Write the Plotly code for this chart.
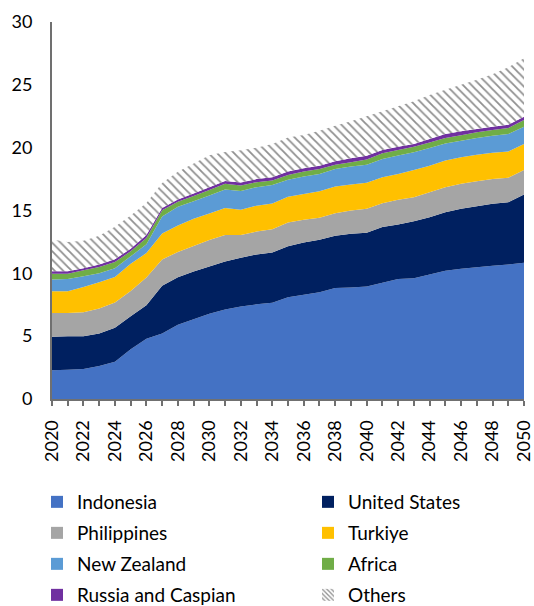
import plotly.graph_objects as go

years = list(range(2020, 2051))

indonesia = [2.28, 2.33, 2.38, 2.62, 2.96, 3.95, 4.80, 5.21, 5.90, 6.35, 6.78,
             7.12, 7.37, 7.53, 7.65, 8.10, 8.30, 8.50, 8.83, 8.88, 8.95,
             9.25, 9.55, 9.60, 9.90, 10.20, 10.37, 10.48, 10.60, 10.70, 10.85]
united_states = [2.67, 2.67, 2.62, 2.59, 2.70, 2.64, 2.66, 3.81, 3.78, 3.80, 3.77,
                 3.83, 3.88, 3.97, 4.00, 4.05, 4.15, 4.17, 4.17, 4.27, 4.27,
                 4.43, 4.34, 4.55, 4.57, 4.67, 4.76, 4.86, 4.93, 4.96, 5.42]
philippines = [1.90, 1.85, 1.90, 1.99, 2.01, 2.01, 2.20, 2.08, 2.02, 2.03, 2.10,
               2.10, 1.80, 1.82, 1.85, 1.90, 1.81, 1.75, 1.79, 1.85, 1.91,
               1.90, 1.96, 1.91, 1.98, 1.98, 1.99, 1.99, 1.98, 1.94, 1.96]
turkiye = [1.72, 1.72, 2.01, 2.09, 2.04, 2.17, 1.95, 2.07, 2.10, 2.16, 2.12,
           2.15, 2.01, 2.06, 2.05, 2.05, 2.06, 2.11, 2.11, 2.06, 2.07,
           2.06, 2.06, 2.17, 2.12, 2.12, 2.11, 2.11, 2.09, 2.10, 2.06]
new_zealand = [0.93, 0.98, 0.85, 0.71, 0.69, 0.58, 0.70, 1.35, 1.50, 1.40, 1.42,
               1.48, 1.50, 1.47, 1.47, 1.34, 1.38, 1.38, 1.40, 1.44, 1.45,
               1.46, 1.46, 1.40, 1.40, 1.37, 1.33, 1.33, 1.35, 1.38, 1.38]
africa = [0.47, 0.42, 0.48, 0.50, 0.50, 0.40, 0.50, 0.50, 0.40, 0.41, 0.45,
          0.44, 0.42, 0.40, 0.36, 0.39, 0.40, 0.39, 0.35, 0.34, 0.40,
          0.45, 0.44, 0.45, 0.45, 0.43, 0.42, 0.45, 0.45, 0.48, 0.53]
russia_caspian = [0.19, 0.19, 0.16, 0.20, 0.23, 0.20, 0.25, 0.17, 0.18, 0.20, 0.21,
                  0.23, 0.24, 0.25, 0.26, 0.27, 0.26, 0.27, 0.26, 0.31, 0.30,
                  0.26, 0.27, 0.21, 0.27, 0.31, 0.32, 0.26, 0.27, 0.27, 0.26]
others = [2.54, 2.34, 2.20, 2.30, 2.57, 2.65, 2.54, 2.00, 2.20, 2.40, 2.55,
          2.30, 2.58, 2.50, 2.66, 2.70, 2.64, 2.78, 2.84, 2.95, 3.15,
          3.09, 3.22, 3.41, 3.51, 3.52, 3.70, 3.92, 4.18, 4.57, 4.65]

names = ["Indonesia", "United States", "Philippines", "Turkiye",
         "New Zealand", "Africa", "Russia and Caspian", "Others"]
values = [indonesia, united_states, philippines, turkiye,
          new_zealand, africa, russia_caspian, others]
colors = ["#4472C4", "#002060", "#A5A5A5", "#FFC000",
          "#5B9BD5", "#70AD47", "#7030A0", "#FFFFFF"]

hatch_color = "#909090"
axis_color = "#707070"

fig = go.Figure()

for name, vals, col in zip(names, values, colors):
    kw = {}
    if name == "Others":
        kw["fillpattern"] = dict(shape="\\", fgcolor=hatch_color, bgcolor="white",
                                 size=6, solidity=0.3)
    fig.add_trace(go.Scatter(
        x=years, y=vals, name=name, stackgroup="one", mode="none",
        fillcolor=col, showlegend=False, hoverinfo="x+y+name", **kw))

# Legend entries (square swatches), two per row
legend_ids = ["legend", "legend2", "legend3", "legend4"]
for i, (name, col) in enumerate(zip(names, colors)):
    row = i // 2
    first = (i % 2 == 0)
    marker = dict(color=col, line=dict(width=0))
    if name == "Others":
        marker["pattern"] = dict(shape="\\", fgcolor=hatch_color, bgcolor="white",
                                 size=4, solidity=0.4)
    fig.add_trace(go.Bar(
        x=[None], y=[None], name=name, marker=marker, showlegend=True,
        legend=legend_ids[row], legendwidth=226 if first else 150,
        hoverinfo="skip"))

W, H = 534, 606
plot_l, plot_r, plot_t, plot_b = 52, 524, 22, 399
ph = plot_b - plot_t
pw = plot_r - plot_l

def py(ypix):
    return (plot_b - ypix) / ph

def px(xpix):
    return (xpix - plot_l) / pw

row_centers = [502, 533, 564, 595]
legend_font = dict(family="Lato, Calibri, sans-serif", size=19, color="#000000")
legend_layout = {}
for lid, yc in zip(legend_ids, row_centers):
    legend_layout[lid] = dict(
        orientation="h", x=px(37), xanchor="left", y=py(yc), yanchor="middle",
        font=legend_font, bgcolor="rgba(0,0,0,0)", borderwidth=0,
        traceorder="normal", entrywidthmode="pixels", entrywidth=226)

fig.update_layout(
    template="none",
    width=W, height=H,
    margin=dict(l=plot_l, r=W - plot_r, t=plot_t, b=H - plot_b, pad=0,
                autoexpand=False),
    paper_bgcolor="white", plot_bgcolor="white",
    font=dict(family="Lato, Calibri, sans-serif", size=18, color="#000000"),
    showlegend=True,
    hovermode="x unified",
    xaxis=dict(
        range=[2020, 2050], tickmode="linear", tick0=2020, dtick=2,
        tickangle=-90, ticks="outside", ticklen=5, tickwidth=2,
        tickcolor=axis_color, showline=True, linecolor=axis_color,
        linewidth=2, showgrid=False, zeroline=False,
        tickfont=dict(size=18), ticklabelstandoff=7,
        minor=dict(tick0=2020, dtick=1, ticks="outside", ticklen=5,
                   tickwidth=2, tickcolor=axis_color, showgrid=False),
    ),
    yaxis=dict(
        range=[0, 30], tickmode="linear", tick0=0, dtick=5, ticks="",
        showline=True, linecolor=axis_color, linewidth=2, showgrid=False,
        zeroline=False, tickfont=dict(size=18), ticklabelstandoff=14,
    ),
    **legend_layout,
)

fig.write_html(
    "out.html",
    config={"displayModeBar": False},
    post_script="document.body.style.margin='0';document.body.style.overflow='hidden';",
)
